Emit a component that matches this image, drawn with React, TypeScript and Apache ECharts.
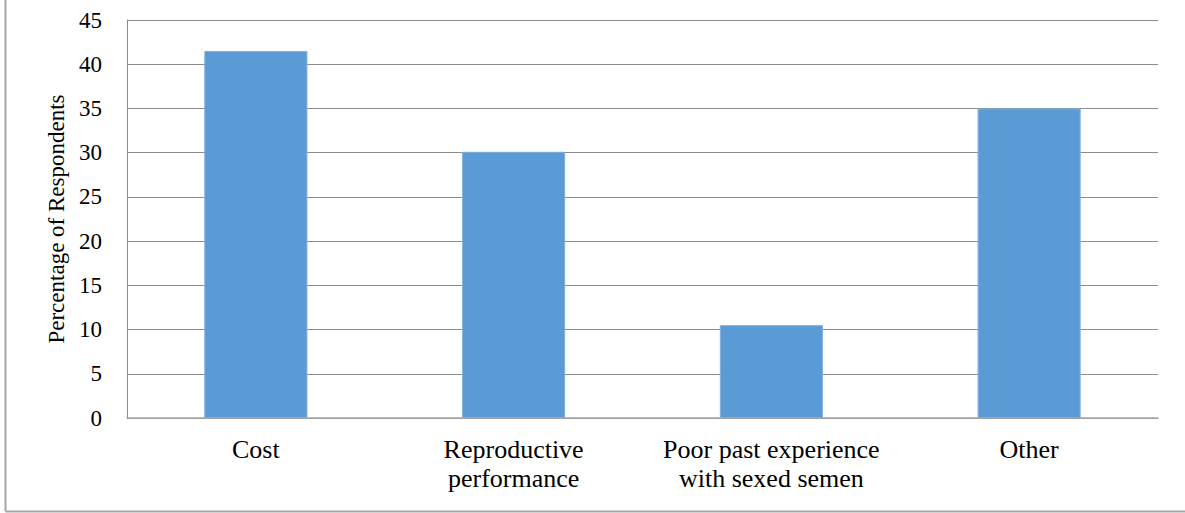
import React, { useEffect, useRef } from "react";
import * as echarts from "echarts";

const categories = [
  "Cost",
  "Reproductive\nperformance",
  "Poor past experience\nwith sexed semen",
  "Other",
];
const percentages = [41.5, 30.1, 10.5, 35.0];
const yAxisName = "Percentage of Respondents";
const yMin = 0;
const yMax = 45;
const yStep = 5;

const FONT = '"Liberation Serif", "Times New Roman", serif';

export default function App() {
  const ref = useRef<HTMLDivElement>(null);

  useEffect(() => {
    if (!ref.current) return;
    const chart = echarts.init(ref.current, undefined, { renderer: "svg" });
    chart.setOption({
      animation: false,
      backgroundColor: "#ffffff",
      grid: { left: 127, right: 27, top: 20, bottom: 95 },
      xAxis: {
        type: "category",
        data: categories,
        axisLine: { show: true, lineStyle: { color: "#a6a6a6", width: 1.5 } },
        axisTick: { show: false },
        axisLabel: {
          color: "#000",
          fontFamily: FONT,
          fontSize: 26,
          lineHeight: 29,
          margin: 17,
          interval: 0,
        },
      },
      yAxis: {
        type: "value",
        min: yMin,
        max: yMax,
        interval: yStep,
        name: yAxisName,
        nameLocation: "middle",
        nameGap: 55,
        nameTextStyle: { color: "#000", fontFamily: FONT, fontSize: 23 },
        axisLine: { show: true, lineStyle: { color: "#8c8c8c", width: 1 } },
        axisTick: { show: false },
        axisLabel: {
          color: "#000",
          fontFamily: FONT,
          fontSize: 23,
          margin: 25,
        },
        splitLine: { show: true, lineStyle: { color: "#8c8c8c", width: 1 } },
      },
      series: [
        {
          type: "bar",
          data: percentages,
          barWidth: "40%",
          itemStyle: {
            color: "#5b9bd5",
            borderColor: "#7eb0de",
            borderWidth: 1,
          },
        },
      ],
      graphic: [
        {
          type: "line",
          shape: { x1: 5.5, y1: 0, x2: 5.5, y2: 511.5 },
          style: { stroke: "#a6a6a6", lineWidth: 2 },
          silent: true,
        },
        {
          type: "line",
          shape: { x1: 5.5, y1: 511.5, x2: 1185, y2: 511.5 },
          style: { stroke: "#a6a6a6", lineWidth: 2 },
          silent: true,
        },
      ],
    });
    return () => chart.dispose();
  }, []);

  return (
    <div
      ref={ref}
      style={{ position: "absolute", left: 0, top: 0, width: 1185, height: 513 }}
    />
  );
}
